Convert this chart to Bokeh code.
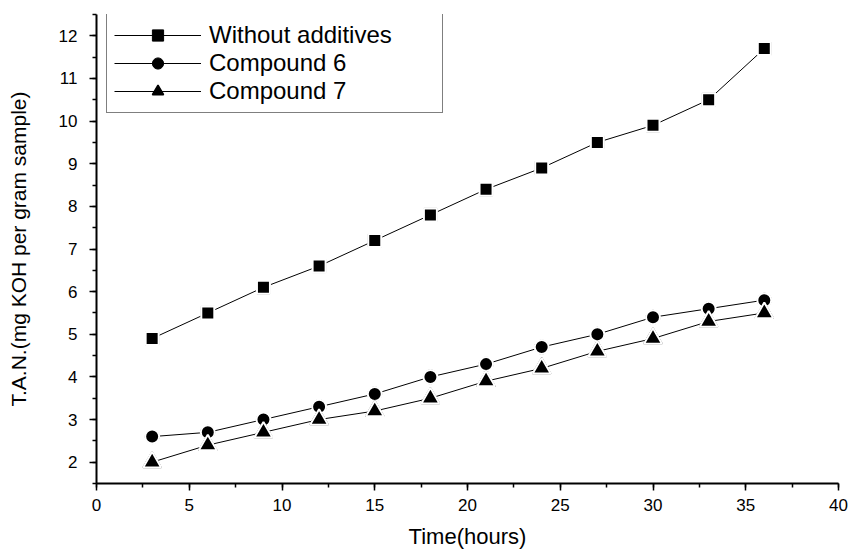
from bokeh.plotting import figure
from bokeh.embed import file_html
from bokeh.resources import INLINE
from bokeh.models import Range1d, FixedTicker, Legend, LegendItem

time_h = [3, 6, 9, 12, 15, 18, 21, 24, 27, 30, 33, 36]
without_additives = [4.9, 5.5, 6.1, 6.6, 7.2, 7.8, 8.4, 8.9, 9.5, 9.9, 10.5, 11.7]
compound_6 = [2.6, 2.7, 3.0, 3.3, 3.6, 4.0, 4.3, 4.7, 5.0, 5.4, 5.6, 5.8]
compound_7 = [2.0, 2.4, 2.7, 3.0, 3.2, 3.5, 3.9, 4.2, 4.6, 4.9, 5.3, 5.5]
x_ticks = [0, 5, 10, 15, 20, 25, 30, 35, 40]
y_ticks = [2, 3, 4, 5, 6, 7, 8, 9, 10, 11, 12]
series_names = ["Without additives", "Compound 6", "Compound 7"]

FONT = "Liberation Sans"

p = figure(width=855, height=554, output_backend="svg", toolbar_location=None,
           x_range=Range1d(0, 40), y_range=Range1d(1.5, 12.5),
           min_border_left=96, min_border_right=17, min_border_top=14, min_border_bottom=71)
p.outline_line_color = None
p.xgrid.visible = False
p.ygrid.visible = False
p.background_fill_color = "white"
p.border_fill_color = "white"

specs = [(without_additives, "square", 13), (compound_6, "circle", 14), (compound_7, "triangle", 18)]
items = []
for name, (vals, marker, size) in zip(series_names, specs):
    lr = p.line(time_h, vals, line_color="black", line_width=1)
    # black-outlined markers (used by the legend), covered by white-ringed markers on the plot
    ls = p.scatter(time_h, vals, marker=marker, size=size, fill_color="black",
                   line_color="black", line_width=1.5 if marker == "triangle" else 1)
    p.scatter(time_h, vals, marker=marker, size=size, fill_color="black",
              line_color="white", line_width=2)
    items.append(LegendItem(label=name, renderers=[lr, ls]))

for ax in (p.xaxis, p.yaxis):
    ax.axis_line_width = 2
    ax.axis_line_color = "black"
    ax.major_tick_line_width = 1.5
    ax.minor_tick_line_width = 1.5
    ax.major_tick_out = 7
    ax.major_tick_in = 0
    ax.minor_tick_out = 4
    ax.minor_tick_in = 0
    ax.major_label_text_font = FONT
    ax.major_label_text_font_size = "17px"
    ax.major_label_text_color = "black"
    ax.axis_label_text_font = FONT
    ax.axis_label_text_font_style = "normal"
    ax.axis_label_text_color = "black"

p.xaxis.axis_label_text_font_size = "22px"
p.yaxis.axis_label_text_font_size = "21px"
p.xaxis.ticker = FixedTicker(ticks=x_ticks, minor_ticks=[i * 2.5 for i in range(17)])
p.yaxis.ticker = FixedTicker(ticks=y_ticks, minor_ticks=[1.5 + i * 0.5 for i in range(23)])
p.xaxis.axis_label = "Time(hours)"
p.yaxis.axis_label = "T.A.N.(mg KOH per gram sample)"
p.xaxis.major_label_standoff = 8
p.xaxis.axis_label_standoff = 10
p.yaxis.major_label_standoff = 12
p.yaxis.axis_label_standoff = 26

legend = Legend(items=items, location=(10, 370))
legend.label_text_font = FONT
legend.label_text_font_size = "24px"
legend.label_text_color = "black"
legend.glyph_width = 87
legend.glyph_height = 28
legend.label_height = 28
legend.label_width = 226
legend.spacing = 0
legend.padding = 7
legend.margin = 0
legend.label_standoff = 8
legend.border_line_color = "black"
legend.border_line_width = 1.5
legend.background_fill_alpha = 1
p.add_layout(legend)

open("out.html", "w").write(file_html(p, INLINE))
